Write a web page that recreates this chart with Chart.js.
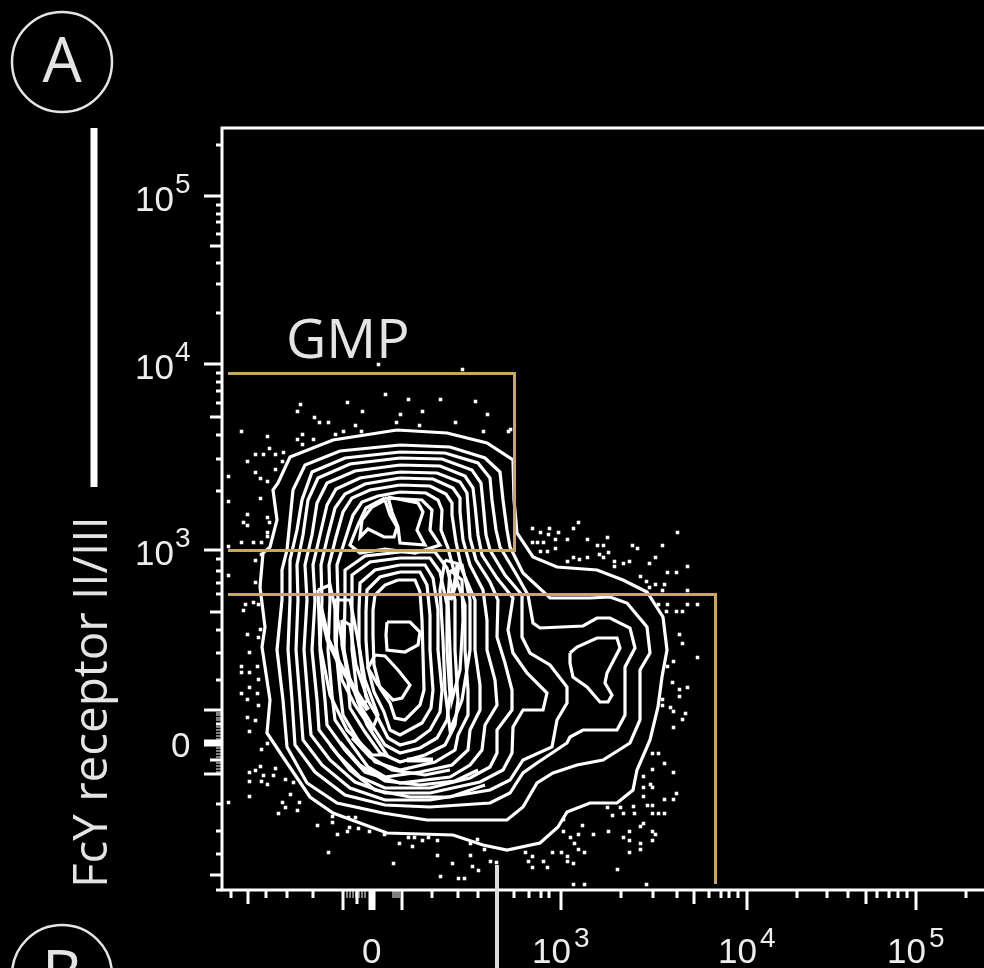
<!DOCTYPE html>
<html>
<head>
<meta charset="utf-8">
<script src="https://cdn.jsdelivr.net/npm/chart.js@4"></script>
<style>
html, body { margin: 0; padding: 0; background: #000; overflow: hidden; width: 984px; height: 968px; }
canvas { position: absolute; left: 0; top: 0; }
</style>
</head>
<body>
<canvas id="plot" width="1100" height="968"></canvas>
<script>
// axis channels
var xMajorTicks = [121, 148, 150, 152, 180, 339, 525, 694];
var xMidTicks = [26, 135, 472, 644];
var xMinorTicks = [9, 44, 65, 91, 210, 236, 256, 292, 307, 319, 327, 487, 499, 507, 516, 399, 431, 455, 575, 605, 626, 655, 667, 676, 685, 744];
var xMicroTicks = [125, 128, 131, 134, 137, 140, 143, 171, 173, 175, 177];
var xLabelTicks = [151, 339, 525, 694];
var xLabelExps = ['', '3', '4', '5'];

var yMajorTicks = [116, 145, 147, 149, 180, 340, 526, 694];
var yMidTicks = [15, 130, 278, 473, 644];
var yMinorTicks = [0, 36, 59, 86, 166, 210, 237, 260, 296, 307, 319, 331, 399, 431, 455, 487, 499, 508, 517, 577, 606, 627, 656, 668, 676, 685, 745];
var yMicroTicks = [118, 121, 124, 127, 130, 133, 136, 139, 142, 151, 154, 157, 160, 163, 170, 172, 175, 177];
var yLabelTicks = [146, 340, 526, 694];
var yLabelExps = ['', '3', '4', '5'];

var gateGMP = [[6, 516.5], [292.5, 516.5], [292.5, 339.5], [6, 339.5]];
var gateLower = [[6, 295.5], [493.5, 295.5], [493.5, 6]];

var contour01 = [[175,460],[225,457],[265,447],[291,430],[292,390],[295,357],[311,333],[335,323],[375,320],[401,310],[425,298],[441,273],[445,240],[440,213],[436,183],[428,150],[415,120],[411,100],[395,87],[368,87],[345,78],[336,63],[318,47],[285,40],[261,45],[231,55],[165,57],[138,67],[111,77],[88,93],[65,127],[45,157],[48,190],[40,243],[43,263],[38,303],[41,337],[48,343],[55,370],[51,400],[56,407],[68,433],[111,450]];
var contour02 = [[178,445],[228,443],[263,432],[278,418],[281,390],[285,360],[288,343],[301,317],[328,292],[368,292],[388,293],[405,287],[425,263],[428,237],[418,220],[418,170],[408,147],[381,130],[355,125],[331,117],[315,107],[301,83],[285,70],[205,70],[161,77],[115,87],[85,107],[65,143],[61,190],[55,240],[60,290],[60,320],[65,340],[68,370],[71,400],[83,425],[118,439]];
var contour03 = [[178,438],[223,437],[256,427],[268,412],[270,390],[274,360],[278,343],[293,318],[306,295],[311,267],[318,262],[361,264],[375,272],[388,272],[408,262],[413,242],[403,223],[403,175],[395,160],[361,160],[348,153],[345,147],[315,127],[301,117],[288,97],[268,87],[208,83],[163,85],[123,95],[93,118],[73,145],[70,190],[66,240],[68,290],[68,330],[75,360],[80,390],[90,418],[123,432]];
var contour04 = [[178,432],[220,431],[250,420],[259,407],[261,387],[264,355],[268,340],[283,315],[300,295],[300,253],[308,237],[328,225],[345,203],[345,187],[335,170],[330,143],[301,130],[288,110],[268,100],[208,90],[163,90],[128,102],[100,125],[81,150],[78,190],[74,240],[76,290],[75,325],[81,355],[86,390],[96,412],[128,426]];
var contour05 = [[178,425],[218,424],[243,414],[251,402],[253,385],[256,355],[260,335],[275,312],[291,292],[286,260],[291,237],[305,217],[325,197],[321,180],[301,180],[291,163],[290,137],[281,120],[258,108],[208,97],[163,97],[133,108],[108,130],[89,155],[86,190],[82,240],[85,290],[83,325],[90,355],[95,387],[105,407],[133,419]];
var contour06 = [[178,418],[215,417],[238,408],[245,397],[246,382],[248,352],[254,330],[268,308],[276,290],[275,253],[283,227],[290,200],[290,180],[275,160],[275,137],[268,123],[248,112],[208,102],[163,102],[138,113],[116,135],[97,160],[95,190],[90,240],[93,290],[91,325],[98,355],[105,385],[114,401],[138,412]];
var contour07 = [[178,412],[211,411],[231,402],[238,392],[238,378],[241,350],[248,325],[261,300],[265,270],[265,240],[273,210],[275,185],[263,165],[260,140],[248,125],[228,113],[178,107],[143,118],[123,140],[105,165],[103,190],[98,240],[100,290],[99,325],[106,355],[113,382],[123,396],[143,406]];
var contour08 = [[178,405],[208,404],[224,396],[230,387],[230,375],[234,348],[240,320],[253,290],[253,240],[258,205],[258,180],[248,160],[246,140],[230,125],[198,118],[163,113],[146,123],[130,145],[113,170],[110,195],[106,240],[108,290],[107,325],[114,353],[121,378],[130,392],[148,400]];
var contour09 = [[178,398],[204,397],[216,390],[220,380],[219,360],[226,342],[233,315],[243,285],[243,240],[246,200],[246,175],[236,155],[233,140],[213,128],[178,120],[153,128],[136,150],[121,175],[118,200],[114,240],[116,290],[115,325],[123,350],[131,375],[140,388],[156,394]];
var topLobe1 = [[163,392],[200,390],[210,380],[208,360],[218,345],[193,337],[163,341],[138,337],[128,345],[136,365],[144,382]];
var topLobe2 = [[163,390],[168,375],[175,363],[172,353],[162,353],[146,361],[138,353],[140,370],[150,383]];
var topLobe3 = [[166,393],[196,387],[201,378],[195,360],[203,345],[178,347],[176,363],[170,378]];
var lowerLobe1 = [[178,338],[213,338],[225,322],[233,290],[233,240],[236,190],[233,165],[223,145],[203,135],[178,128],[158,137],[143,158],[128,182],[126,210],[122,240],[123,290],[123,320],[143,334]];
var lowerLobe2 = [[178,332],[208,332],[218,318],[225,285],[225,240],[228,195],[225,170],[215,152],[198,142],[178,137],[163,145],[150,165],[136,188],[133,215],[130,240],[130,285],[130,315],[148,328]];
var lowerLobe3 = [[178,325],[203,325],[211,312],[216,280],[216,240],[220,200],[218,178],[208,160],[193,149],[178,145],[166,152],[156,172],[144,193],[140,218],[137,245],[137,280],[138,307],[153,320]];
var lowerLobe4 = [[178,318],[198,318],[205,305],[208,275],[208,240],[211,200],[209,182],[200,167],[178,155],[168,160],[162,178],[152,198],[146,222],[144,250],[144,278],[145,300],[158,313]];
var lowerLobe5 = [[176,310],[193,310],[198,298],[200,270],[201,235],[202,200],[198,185],[183,170],[173,172],[168,187],[158,202],[152,225],[151,255],[151,280],[153,295],[163,305]];
var holeBox = [[165,268],[188,268],[198,258],[196,245],[183,238],[165,240],[164,255]];
var holeDiagonal = [[153,235],[163,234],[176,220],[188,205],[180,192],[171,190],[156,205],[146,222]];
var rightPeak = [[348,237],[355,243],[375,252],[395,252],[398,242],[385,217],[383,207],[390,195],[386,188],[378,188],[365,203],[351,213],[348,227]];
var ridgeLeft1 = [[113,290],[128,290],[136,250],[143,210],[156,175],[150,160],[133,185],[120,210],[113,250]];
var ridgeLeft2 = [[120,270],[128,265],[134,225],[146,190],[140,185],[126,215],[120,245]];
var ridgeLeft3 = [[96,300],[108,305],[118,260],[128,210],[145,165],[165,135],[150,135],[125,160],[108,195],[98,245]];
var ridgeRight1 = [[223,330],[240,325],[248,290],[248,240],[240,190],[228,160],[223,200],[221,250],[218,300]];
var ridgeRight2 = [[228,320],[240,310],[241,270],[238,220],[230,190],[228,240],[226,290]];

var bottomArcA = [[108,145],[128,120],[153,100],[188,93],[228,93],[263,105]];
var bottomArcB = [[118,148],[138,125],[163,109],[198,105],[233,109],[256,120]];
var bottomArcC = [[130,152],[148,133],[170,120],[203,115],[228,120]];

var streakLeft = [[98,285],[106,250],[118,225],[133,200],[146,180]];
var streakRight = [[236,325],[233,305],[228,290]];
var streakBottom = [[185,130],[211,130]];

var dotsRight = [[310,361],[318,357],[327,361],[336,357],[351,361],[356,367],[326,355],[333,350],[345,350],[365,350],[385,352],[310,347],[315,347],[321,347],[333,341],[375,344],[381,344],[410,344],[415,341],[440,344],[455,357],[318,338],[325,338],[386,337],[377,335],[381,332],[345,328],[351,332],[357,330],[365,332],[392,328],[392,323],[401,326],[407,328],[427,326],[433,332],[465,323],[445,317],[454,317],[418,313],[424,308],[433,305],[442,305],[427,302],[440,299],[465,299],[436,285],[445,285],[465,285],[475,285],[444,278],[454,278],[460,278],[457,255],[460,246],[475,232],[451,228],[445,223],[450,207],[457,200],[465,202],[457,193],[440,190],[440,184],[448,182],[451,178],[463,176],[460,170],[451,162],[430,136],[436,136],[442,126],[430,120],[451,117],[421,113],[428,105],[430,102],[421,102],[454,96],[421,93],[442,90],[451,90],[398,82],[385,82],[411,83],[425,84],[430,84],[401,76],[412,76],[430,76],[436,76],[442,76],[390,74],[341,70],[421,66],[418,63],[360,64],[386,58],[371,55],[356,55],[341,58],[407,58],[430,58],[433,55],[348,52],[401,52],[407,49],[430,49],[418,46],[418,40],[352,46],[356,40],[362,37],[330,37],[339,37],[345,33],[303,37],[310,33],[306,28],[321,28],[345,28],[351,26],[310,22],[325,22],[395,20],[407,37],[351,5],[362,5],[424,5]];
var dotsTopLeft = [[19,458],[45,453],[80,455],[75,450],[80,445],[91,450],[113,455],[121,458],[97,467],[106,467],[133,464],[139,458],[174,467],[197,464],[233,467],[47,441],[53,435],[33,435],[41,435],[25,428],[60,428],[61,437],[53,420],[33,417],[6,413],[38,411],[45,408],[6,388],[38,391],[25,375],[45,372],[25,364],[47,367],[21,367],[45,357],[45,353],[6,343],[19,347],[31,347],[39,347],[39,335],[33,329],[6,314],[33,307],[31,287],[23,285],[21,279],[36,285],[25,255],[38,260],[36,252],[27,237],[261,458],[286,458]];
var dotsAbove = [[78,485],[125,487],[156,525],[240,520],[178,475],[163,495],[186,490],[218,490],[253,488],[288,460],[92,472],[75,478],[140,478],[200,478],[265,475]];
var dotsBottomLeft = [[19,223],[35,223],[19,217],[27,217],[36,210],[27,202],[19,196],[35,196],[25,190],[36,184],[25,172],[33,169],[27,158],[45,146],[39,140],[38,123],[33,119],[27,117],[53,121],[51,114],[41,114],[27,108],[39,108],[45,105],[63,110],[71,107],[27,93],[6,87],[68,95],[60,87],[63,82],[77,87],[75,79],[56,76],[110,73],[110,67],[95,64],[126,72],[133,72],[127,62],[125,58],[136,61],[115,55],[147,58],[162,55],[106,37],[171,26],[177,46],[190,43],[186,52],[192,52],[200,49],[206,52],[215,49],[215,34],[230,26],[248,46],[248,34],[250,23],[256,19],[218,13],[236,11],[242,11],[255,50],[262,40],[268,28],[274,27]];

var contours = [contour01, contour02, contour03, contour04, contour05, contour06, contour07, contour08, contour09,
    topLobe1, topLobe2, topLobe3, lowerLobe1, lowerLobe2, lowerLobe3, lowerLobe4, lowerLobe5, holeBox, holeDiagonal, rightPeak,
    ridgeLeft1, ridgeLeft2, ridgeLeft3, ridgeRight1, ridgeRight2];
var arcs = [bottomArcA, bottomArcB, bottomArcC];
var streaks = [streakLeft, streakRight, streakBottom];
var allDots = dotsRight.concat(dotsTopLeft, dotsAbove, dotsBottomLeft);
var gates = [gateGMP, gateLower];

function pts(list) {
    return list.map(function (p) { return {x: p[0], y: p[1]}; });
}

var datasets = [];
gates.forEach(function (g) {
    datasets.push({data: pts(g), showLine: true, borderColor: '#c9a662', borderWidth: 3, pointRadius: 0, fill: false, borderJoinStyle: 'miter'});
});
contours.forEach(function (c) {
    datasets.push({data: pts(c.concat([c[0]])), showLine: true, borderColor: '#fff', borderWidth: 3.2, pointRadius: 0, fill: false});
});
arcs.forEach(function (c) {
    datasets.push({data: pts(c), showLine: true, borderColor: '#fff', borderWidth: 3.2, pointRadius: 0, fill: false});
});
streaks.forEach(function (s) {
    datasets.push({data: pts(s), showLine: true, borderColor: '#fff', borderWidth: 5, pointRadius: 0, fill: false});
});
// half a channel so the square dots land on whole pixels
datasets.push({
    data: allDots.map(function (p) { return {x: p[0] + 0.5, y: p[1] + 0.5}; }),
    showLine: false, pointStyle: 'rect', pointRadius: 2.5, pointBackgroundColor: '#fff', pointBorderWidth: 0
});

var frame = {
    id: 'frame',
    beforeDraw: function (chart) {
        var ctx = chart.ctx;
        ctx.save();
        ctx.fillStyle = '#000';
        ctx.fillRect(0, 0, chart.width, chart.height);
        ctx.restore();
    },
    afterDraw: function (chart) {
        var ctx = chart.ctx, a = chart.chartArea;
        var x = chart.scales.x, y = chart.scales.y;
        ctx.save();

        // plot box
        ctx.strokeStyle = '#fff';
        ctx.lineWidth = 3;
        ctx.strokeRect(a.left, a.top, a.right - a.left, a.bottom - a.top);

        // tick marks
        function xTicks(list, len, w) {
            ctx.lineWidth = w;
            ctx.beginPath();
            list.forEach(function (v) {
                ctx.moveTo(x.getPixelForValue(v), a.bottom);
                ctx.lineTo(x.getPixelForValue(v), a.bottom + len);
            });
            ctx.stroke();
        }
        function yTicks(list, len, w) {
            ctx.lineWidth = w;
            ctx.beginPath();
            list.forEach(function (v) {
                ctx.moveTo(a.left, y.getPixelForValue(v));
                ctx.lineTo(a.left - len, y.getPixelForValue(v));
            });
            ctx.stroke();
        }
        xTicks(xMajorTicks, 20, 3);
        xTicks(xMidTicks, 14, 3);
        xTicks(xMinorTicks, 8, 3);
        xTicks(xMicroTicks, 8, 1);
        yTicks(yMajorTicks, 18, 3);
        yTicks(yMidTicks, 12, 3);
        yTicks(yMinorTicks, 6, 3);
        yTicks(yMicroTicks, 6, 1);

        // tick labels
        ctx.fillStyle = '#ececec';
        ctx.textBaseline = 'alphabetic';
        ctx.textAlign = 'left';
        xLabelTicks.forEach(function (v, i) {
            var px = x.getPixelForValue(v);
            if (xLabelExps[i] === '') {
                ctx.font = '35px "Liberation Sans"';
                ctx.fillText('0', px - 11, 963);
                return;
            }
            ctx.font = '35px "Liberation Sans"';
            ctx.fillText('10', px - 29, 963);
            ctx.font = '28px "Liberation Sans"';
            ctx.fillText(xLabelExps[i], px + 13, 947);
        });
        yLabelTicks.forEach(function (v, i) {
            var py = y.getPixelForValue(v);
            if (yLabelExps[i] === '') {
                ctx.font = '35px "Liberation Sans"';
                ctx.fillText('0', 171, py + 13);
                return;
            }
            ctx.font = '35px "Liberation Sans"';
            ctx.fillText('10', 135, py + 15);
            ctx.font = '28px "Liberation Sans"';
            ctx.fillText(yLabelExps[i], 175, py - 3);
        });

        // gate name
        ctx.fillStyle = '#e4e4e4';
        ctx.font = '55.5px "Open Sans"';
        ctx.fillText('GMP', 286, 358);

        // axis marks around the plot
        ctx.strokeStyle = '#fff';
        ctx.lineWidth = 7;
        ctx.beginPath();
        ctx.moveTo(94, 128);
        ctx.lineTo(94, 487);
        ctx.stroke();
        ctx.strokeStyle = '#dcdcdc';
        ctx.lineWidth = 4;
        ctx.beginPath();
        ctx.moveTo(497, 865);
        ctx.lineTo(497, 968);
        ctx.stroke();

        ctx.save();
        ctx.translate(107, 888);
        ctx.rotate(-Math.PI / 2);
        ctx.fillStyle = '#e4e4e4';
        ctx.font = '47.5px "Open Sans"';
        ctx.fillText('FcY receptor II/III', 0, 0);
        ctx.restore();

        // panel letters
        ctx.strokeStyle = '#e4e4e4';
        ctx.lineWidth = 2.5;
        ctx.beginPath();
        ctx.arc(62, 62, 50, 0, Math.PI * 2);
        ctx.stroke();
        ctx.beginPath();
        ctx.arc(62, 975, 50, 0, Math.PI * 2);
        ctx.stroke();
        ctx.fillStyle = '#e4e4e4';
        ctx.textAlign = 'center';
        ctx.font = '62px "Open Sans"';
        ctx.fillText('A', 62, 82);
        ctx.fillText('B', 62, 995);
        ctx.restore();
    }
};

new Chart(document.getElementById('plot'), {
    type: 'scatter',
    data: {datasets: datasets},
    options: {
        responsive: false,
        animation: false,
        layout: {autoPadding: false, padding: {left: 222, top: 128, right: 0, bottom: 78}},
        plugins: {legend: {display: false}, tooltip: {enabled: false}, title: {display: false}},
        scales: {
            x: {type: 'linear', min: 0, max: 878, display: false},
            y: {type: 'linear', min: 0, max: 762, display: false}
        }
    },
    plugins: [frame]
});
</script>
</body>
</html>
